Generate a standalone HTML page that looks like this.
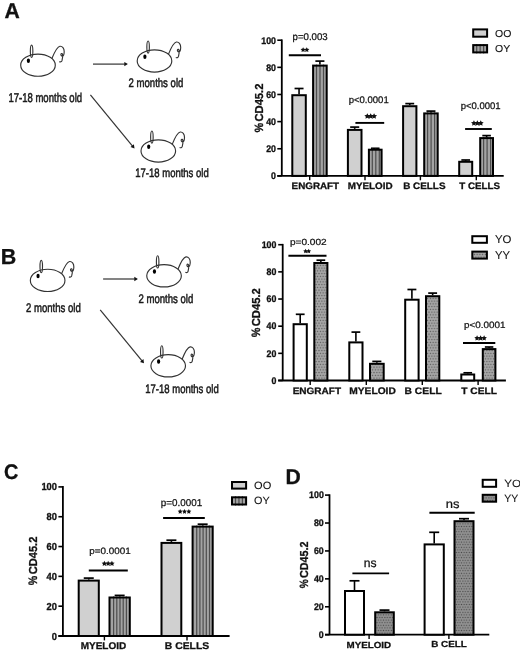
<!DOCTYPE html>
<html><head><meta charset="utf-8"><style>
html,body{margin:0;padding:0;background:#fff;width:520px;height:655px;overflow:hidden}
text{font-family:"Liberation Sans", sans-serif;-webkit-font-smoothing:antialiased;text-rendering:geometricPrecision}
</style></head><body>
<svg width="520" height="655" viewBox="0 0 520 655" style="display:block;filter:grayscale(1)">
<defs>
<pattern id="stripes" patternUnits="userSpaceOnUse" width="3.6" height="10" x="0" y="0">
<rect width="3.6" height="10" fill="#a0a0a0"/><rect x="2.4" width="1.2" height="10" fill="#4a4a4a"/>
</pattern>
<pattern id="dots" patternUnits="userSpaceOnUse" width="2.75" height="5.5">
<rect width="2.75" height="5.5" fill="#aaaaaa"/><rect x="0.75" y="0.75" width="1.25" height="1.25" fill="#555"/><rect x="-0.625" y="3.5" width="1.25" height="1.25" fill="#555"/><rect x="2.125" y="3.5" width="1.25" height="1.25" fill="#555"/>
</pattern>
<pattern id="dotsD" patternUnits="userSpaceOnUse" width="2.6" height="5.2">
<rect width="2.6" height="5.2" fill="#939393"/><rect x="0.7" y="0.7" width="1.2" height="1.2" fill="#4a4a4a"/><rect x="-0.6" y="3.3" width="1.2" height="1.2" fill="#4a4a4a"/><rect x="2.0" y="3.3" width="1.2" height="1.2" fill="#4a4a4a"/>
</pattern>
<g id="mouse" fill="none" stroke="#333" stroke-width="1.15">
<ellipse cx="0" cy="0" rx="17.3" ry="11.1"/>
<ellipse cx="-6.4" cy="-13.9" rx="1.25" ry="6.1"/>
<ellipse cx="-9.6" cy="-4.3" rx="1.6" ry="2.25" fill="#000" stroke="none"/>
<path d="M13.9,-6.6 C16.3,-12.5 19.6,-18.6 21.9,-18.9 C24.3,-19.2 26.3,-16.8 26.2,-13.5 C26.1,-11 25.5,-9 24.4,-9 C23.3,-9 22.6,-10.2 23,-11.2 C23.4,-12 24.4,-11.6 24.6,-10.5 C24.8,-9 24.4,-6 24,-4.5 C23.6,-3.2 22.5,-3 21.3,-3.5"/>
</g>
</defs>
<rect width="520" height="655" fill="#fff"/>
<g font-family='"Liberation Sans", sans-serif'>
<text transform="translate(4.47 17.80) scale(0.9815 1)" font-size="21.59" font-weight="bold" fill="#111" stroke="#111" stroke-width="0.306">A</text>
<use href="#mouse" transform="translate(38 65.15) scale(1.0)"/>
<use href="#mouse" transform="translate(154.5 60.95) scale(1.0)"/>
<use href="#mouse" transform="translate(158.3 150.95) scale(1.0)"/>
<line x1="93" y1="64.1" x2="124.80" y2="64.10" stroke="#333" stroke-width="1.2"/>
<polygon points="127.9,64.1 124.30,66.30 124.30,61.90" fill="#111"/>
<line x1="90.4" y1="94.9" x2="132.53" y2="146.11" stroke="#333" stroke-width="1.2"/>
<polygon points="134.5,148.5 130.51,147.12 133.91,144.32" fill="#111"/>
<text transform="translate(8.38 102.47) scale(0.7463 1)" font-size="12.79" fill="#1a1a1a" stroke="#1a1a1a" stroke-width="0.536">17-18 months old</text>
<text transform="translate(128.52 87.38) scale(0.7739 1)" font-size="12.38" fill="#1a1a1a" stroke="#1a1a1a" stroke-width="0.517">2 months old</text>
<text transform="translate(135.29 177.38) scale(0.7763 1)" font-size="12.24" fill="#1a1a1a" stroke="#1a1a1a" stroke-width="0.515">17-18 months old</text>
<line x1="281.8" y1="175.9" x2="281.8" y2="39.400000000000006" stroke="#000" stroke-width="1.8"/>
<line x1="277.3" y1="175.9" x2="281.8" y2="175.9" stroke="#000" stroke-width="1.6"/>
<text transform="translate(271.06 179.20) scale(0.9200 1)" font-size="9.58" font-weight="bold" fill="#111" stroke="#111" stroke-width="0.326">0</text>
<line x1="277.3" y1="148.76" x2="281.8" y2="148.76" stroke="#000" stroke-width="1.6"/>
<text transform="translate(266.17 152.06) scale(0.9200 1)" font-size="9.58" font-weight="bold" fill="#111" stroke="#111" stroke-width="0.326">20</text>
<line x1="277.3" y1="121.62" x2="281.8" y2="121.62" stroke="#000" stroke-width="1.6"/>
<text transform="translate(266.17 124.92) scale(0.9200 1)" font-size="9.58" font-weight="bold" fill="#111" stroke="#111" stroke-width="0.326">40</text>
<line x1="277.3" y1="94.48000000000002" x2="281.8" y2="94.48000000000002" stroke="#000" stroke-width="1.6"/>
<text transform="translate(266.17 97.78) scale(0.9200 1)" font-size="9.58" font-weight="bold" fill="#111" stroke="#111" stroke-width="0.326">60</text>
<line x1="277.3" y1="67.34" x2="281.8" y2="67.34" stroke="#000" stroke-width="1.6"/>
<text transform="translate(266.17 70.64) scale(0.9200 1)" font-size="9.58" font-weight="bold" fill="#111" stroke="#111" stroke-width="0.326">80</text>
<line x1="277.3" y1="40.20000000000002" x2="281.8" y2="40.20000000000002" stroke="#000" stroke-width="1.6"/>
<text transform="translate(261.28 43.50) scale(0.9200 1)" font-size="9.58" font-weight="bold" fill="#111" stroke="#111" stroke-width="0.326">100</text>
<line x1="277.3" y1="175.9" x2="503.7" y2="175.9" stroke="#000" stroke-width="1.8"/>
<line x1="309.7" y1="175.9" x2="309.7" y2="180.3" stroke="#000" stroke-width="1.4"/>
<line x1="365.0" y1="175.9" x2="365.0" y2="180.3" stroke="#000" stroke-width="1.4"/>
<line x1="420.4" y1="175.9" x2="420.4" y2="180.3" stroke="#000" stroke-width="1.4"/>
<line x1="476.3" y1="175.9" x2="476.3" y2="180.3" stroke="#000" stroke-width="1.4"/>
<line x1="299.05" y1="94.2" x2="299.05" y2="88.5" stroke="#000" stroke-width="1.6"/>
<line x1="294.555" y1="88.5" x2="303.545" y2="88.5" stroke="#000" stroke-width="1.7"/>
<rect x="292.3" y="95.2" width="13.5" height="80.7" fill="#d0d0d0" stroke="#000" stroke-width="2"/>
<line x1="319.9" y1="64.6" x2="319.9" y2="61.099999999999994" stroke="#000" stroke-width="1.6"/>
<line x1="315.376" y1="61.099999999999994" x2="324.424" y2="61.099999999999994" stroke="#000" stroke-width="1.7"/>
<rect x="313.1" y="65.6" width="13.599999999999966" height="110.30000000000001" fill="#a3a3a3"/>
<rect x="315.90" y="64.6" width="1.2" height="111.30000000000001" fill="#4d4d4d"/>
<rect x="319.40" y="64.6" width="1.2" height="111.30000000000001" fill="#4d4d4d"/>
<rect x="322.90" y="64.6" width="1.2" height="111.30000000000001" fill="#4d4d4d"/>
<rect x="313.1" y="65.6" width="13.599999999999966" height="110.30000000000001" fill="none" stroke="#000" stroke-width="2"/>
<line x1="354.7" y1="128.9" x2="354.7" y2="127.1" stroke="#000" stroke-width="1.6"/>
<line x1="350.176" y1="127.1" x2="359.224" y2="127.1" stroke="#000" stroke-width="1.7"/>
<rect x="347.9" y="129.9" width="13.600000000000023" height="46.0" fill="#d0d0d0" stroke="#000" stroke-width="2"/>
<line x1="375.25" y1="148.7" x2="375.25" y2="148.3" stroke="#000" stroke-width="1.6"/>
<line x1="370.98699999999997" y1="148.3" x2="379.51300000000003" y2="148.3" stroke="#000" stroke-width="1.7"/>
<rect x="368.9" y="149.7" width="12.700000000000045" height="26.200000000000017" fill="#a3a3a3"/>
<rect x="371.70" y="148.7" width="1.2" height="27.200000000000017" fill="#4d4d4d"/>
<rect x="375.20" y="148.7" width="1.2" height="27.200000000000017" fill="#4d4d4d"/>
<rect x="378.70" y="148.7" width="1.2" height="27.200000000000017" fill="#4d4d4d"/>
<rect x="368.9" y="149.7" width="12.700000000000045" height="26.200000000000017" fill="none" stroke="#000" stroke-width="2"/>
<line x1="409.75" y1="105.2" x2="409.75" y2="103.6" stroke="#000" stroke-width="1.6"/>
<line x1="405.313" y1="103.6" x2="414.187" y2="103.6" stroke="#000" stroke-width="1.7"/>
<rect x="403.1" y="106.2" width="13.299999999999955" height="69.7" fill="#d0d0d0" stroke="#000" stroke-width="2"/>
<line x1="430.95" y1="112.4" x2="430.95" y2="111.1" stroke="#000" stroke-width="1.6"/>
<line x1="426.455" y1="111.1" x2="435.445" y2="111.1" stroke="#000" stroke-width="1.7"/>
<rect x="424.2" y="113.4" width="13.5" height="62.5" fill="#a3a3a3"/>
<rect x="427.00" y="112.4" width="1.2" height="63.5" fill="#4d4d4d"/>
<rect x="430.50" y="112.4" width="1.2" height="63.5" fill="#4d4d4d"/>
<rect x="434.00" y="112.4" width="1.2" height="63.5" fill="#4d4d4d"/>
<rect x="424.2" y="113.4" width="13.5" height="62.5" fill="none" stroke="#000" stroke-width="2"/>
<line x1="465.7" y1="160.8" x2="465.7" y2="160.0" stroke="#000" stroke-width="1.6"/>
<line x1="461.34999999999997" y1="160.0" x2="470.05" y2="160.0" stroke="#000" stroke-width="1.7"/>
<rect x="459.2" y="161.8" width="13.0" height="14.099999999999994" fill="#d0d0d0" stroke="#000" stroke-width="2"/>
<line x1="486.6" y1="137.1" x2="486.6" y2="135.60000000000002" stroke="#000" stroke-width="1.6"/>
<line x1="482.308" y1="135.60000000000002" x2="490.89200000000005" y2="135.60000000000002" stroke="#000" stroke-width="1.7"/>
<rect x="480.2" y="138.1" width="12.800000000000011" height="37.80000000000001" fill="#a3a3a3"/>
<rect x="483.00" y="137.1" width="1.2" height="38.80000000000001" fill="#4d4d4d"/>
<rect x="486.50" y="137.1" width="1.2" height="38.80000000000001" fill="#4d4d4d"/>
<rect x="490.00" y="137.1" width="1.2" height="38.80000000000001" fill="#4d4d4d"/>
<rect x="480.2" y="138.1" width="12.800000000000011" height="37.80000000000001" fill="none" stroke="#000" stroke-width="2"/>
<text transform="translate(291.56 189.31) scale(1.0588 1)" font-size="9.30" font-weight="bold" fill="#111" stroke="#111" stroke-width="0.283">ENGRAFT</text>
<text transform="translate(347.66 189.31) scale(1.0613 1)" font-size="9.30" font-weight="bold" fill="#111" stroke="#111" stroke-width="0.283">MYELOID</text>
<text transform="translate(403.16 189.31) scale(1.0642 1)" font-size="9.30" font-weight="bold" fill="#111" stroke="#111" stroke-width="0.282">B CELLS</text>
<text transform="translate(459.20 189.31) scale(1.0523 1)" font-size="9.30" font-weight="bold" fill="#111" stroke="#111" stroke-width="0.285">T CELLS</text>
<text transform="translate(262.68 121.55) rotate(-90) scale(0.9705 1)" font-size="11.55" font-weight="bold" fill="#111" stroke="#111" stroke-width="0.300">CD45.2</text>
<text transform="translate(262.78 132.47) rotate(-90) scale(0.9092 1)" font-size="11.91" font-weight="bold" fill="#111" stroke="#111" stroke-width="0.300">%</text>
<line x1="288.8" y1="55.3" x2="321" y2="55.3" stroke="#000" stroke-width="1.9"/>
<polygon points="303.12,47.20 303.92,48.82 305.71,49.08 304.41,50.34 304.72,52.12 303.12,51.28 301.52,52.12 301.83,50.34 300.53,49.08 302.32,48.82" fill="#111"/>
<polygon points="306.78,47.20 307.58,48.82 309.37,49.08 308.07,50.34 308.38,52.12 306.78,51.28 305.18,52.12 305.49,50.34 304.19,49.08 305.98,48.82" fill="#111"/>
<text transform="translate(292.57 39.75) scale(0.9877 1)" font-size="9.78" fill="#111" stroke="#111" stroke-width="0.253">p=0.003</text>
<line x1="355.4" y1="122.9" x2="384.2" y2="122.9" stroke="#000" stroke-width="1.9"/>
<polygon points="367.32,113.18 368.24,115.04 370.29,115.34 368.80,116.78 369.15,118.82 367.32,117.86 365.49,118.82 365.84,116.78 364.35,115.34 366.40,115.04" fill="#111"/>
<polygon points="370.70,113.18 371.62,115.04 373.67,115.34 372.18,116.78 372.53,118.82 370.70,117.86 368.87,118.82 369.22,116.78 367.73,115.34 369.78,115.04" fill="#111"/>
<polygon points="374.08,113.18 375.00,115.04 377.05,115.34 375.56,116.78 375.91,118.82 374.08,117.86 372.25,118.82 372.60,116.78 371.11,115.34 373.16,115.04" fill="#111"/>
<text transform="translate(348.68 102.99) scale(0.9986 1)" font-size="9.56" fill="#111" stroke="#111" stroke-width="0.250">p&lt;0.0001</text>
<line x1="465.1" y1="129" x2="491.8" y2="129" stroke="#000" stroke-width="1.9"/>
<polygon points="473.94,120.20 474.83,122.01 476.83,122.30 475.39,123.71 475.73,125.70 473.94,124.76 472.15,125.70 472.49,123.71 471.05,122.30 473.05,122.01" fill="#111"/>
<polygon points="477.35,120.20 478.24,122.01 480.24,122.30 478.80,123.71 479.14,125.70 477.35,124.76 475.56,125.70 475.90,123.71 474.46,122.30 476.46,122.01" fill="#111"/>
<polygon points="480.76,120.20 481.65,122.01 483.65,122.30 482.21,123.71 482.55,125.70 480.76,124.76 478.97,125.70 479.31,123.71 477.87,122.30 479.87,122.01" fill="#111"/>
<text transform="translate(460.63 109.49) scale(0.9973 1)" font-size="9.56" fill="#111" stroke="#111" stroke-width="0.251">p&lt;0.0001</text>
<rect x="473.2" y="29.4" width="13.900000000000034" height="7.300000000000004" fill="#d0d0d0" stroke="#000" stroke-width="2"/>
<rect x="473.2" y="45.1" width="13.900000000000034" height="7.299999999999997" fill="#a3a3a3"/>
<rect x="476.10" y="44.1" width="1.2" height="9.299999999999997" fill="#4d4d4d"/>
<rect x="479.55" y="44.1" width="1.2" height="9.299999999999997" fill="#4d4d4d"/>
<rect x="483.00" y="44.1" width="1.2" height="9.299999999999997" fill="#4d4d4d"/>
<rect x="473.2" y="45.1" width="13.900000000000034" height="7.299999999999997" fill="none" stroke="#000" stroke-width="2"/>
<text transform="translate(495.03 36.60) scale(1.0366 1)" font-size="10.14" fill="#111" stroke="#111" stroke-width="0.096">OO</text>
<text transform="translate(495.03 52.10) scale(1.0361 1)" font-size="10.14" fill="#111" stroke="#111" stroke-width="0.097">OY</text>
<text transform="translate(0.80 263.75) scale(0.9879 1)" font-size="21.74" font-weight="bold" fill="#111" stroke="#111" stroke-width="0.304">B</text>
<use href="#mouse" transform="translate(47.65 280.4) scale(1.0)"/>
<use href="#mouse" transform="translate(164.05 275.8) scale(1.0)"/>
<use href="#mouse" transform="translate(168.2 365.8) scale(1.0)"/>
<line x1="103.1" y1="279.0" x2="134.80" y2="279.00" stroke="#333" stroke-width="1.2"/>
<polygon points="137.9,279.0 134.30,281.20 134.30,276.80" fill="#111"/>
<line x1="100.2" y1="309.8" x2="142.04" y2="360.90" stroke="#333" stroke-width="1.2"/>
<polygon points="144,363.3 140.02,361.91 143.42,359.12" fill="#111"/>
<text transform="translate(26.02 312.28) scale(0.7696 1)" font-size="12.45" fill="#1a1a1a" stroke="#1a1a1a" stroke-width="0.520">2 months old</text>
<text transform="translate(138.52 302.78) scale(0.7696 1)" font-size="12.45" fill="#1a1a1a" stroke="#1a1a1a" stroke-width="0.520">2 months old</text>
<text transform="translate(145.29 392.88) scale(0.7763 1)" font-size="12.24" fill="#1a1a1a" stroke="#1a1a1a" stroke-width="0.515">17-18 months old</text>
<line x1="282.7" y1="380.5" x2="282.7" y2="243.89999999999998" stroke="#000" stroke-width="1.8"/>
<line x1="278.2" y1="380.5" x2="282.7" y2="380.5" stroke="#000" stroke-width="1.6"/>
<text transform="translate(271.46 383.80) scale(0.9200 1)" font-size="9.58" font-weight="bold" fill="#111" stroke="#111" stroke-width="0.326">0</text>
<line x1="278.2" y1="353.34" x2="282.7" y2="353.34" stroke="#000" stroke-width="1.6"/>
<text transform="translate(266.57 356.64) scale(0.9200 1)" font-size="9.58" font-weight="bold" fill="#111" stroke="#111" stroke-width="0.326">20</text>
<line x1="278.2" y1="326.18" x2="282.7" y2="326.18" stroke="#000" stroke-width="1.6"/>
<text transform="translate(266.57 329.48) scale(0.9200 1)" font-size="9.58" font-weight="bold" fill="#111" stroke="#111" stroke-width="0.326">40</text>
<line x1="278.2" y1="299.02" x2="282.7" y2="299.02" stroke="#000" stroke-width="1.6"/>
<text transform="translate(266.57 302.32) scale(0.9200 1)" font-size="9.58" font-weight="bold" fill="#111" stroke="#111" stroke-width="0.326">60</text>
<line x1="278.2" y1="271.86" x2="282.7" y2="271.86" stroke="#000" stroke-width="1.6"/>
<text transform="translate(266.57 275.16) scale(0.9200 1)" font-size="9.58" font-weight="bold" fill="#111" stroke="#111" stroke-width="0.326">80</text>
<line x1="278.2" y1="244.7" x2="282.7" y2="244.7" stroke="#000" stroke-width="1.6"/>
<text transform="translate(261.68 248.00) scale(0.9200 1)" font-size="9.58" font-weight="bold" fill="#111" stroke="#111" stroke-width="0.326">100</text>
<line x1="278.2" y1="380.5" x2="505.9" y2="380.5" stroke="#000" stroke-width="1.8"/>
<line x1="310.2" y1="380.5" x2="310.2" y2="384.9" stroke="#000" stroke-width="1.4"/>
<line x1="366.3" y1="380.5" x2="366.3" y2="384.9" stroke="#000" stroke-width="1.4"/>
<line x1="422.3" y1="380.5" x2="422.3" y2="384.9" stroke="#000" stroke-width="1.4"/>
<line x1="478.1" y1="380.5" x2="478.1" y2="384.9" stroke="#000" stroke-width="1.4"/>
<line x1="300.20000000000005" y1="323.2" x2="300.20000000000005" y2="314.3" stroke="#000" stroke-width="1.6"/>
<line x1="295.79200000000003" y1="314.3" x2="304.60800000000006" y2="314.3" stroke="#000" stroke-width="1.7"/>
<rect x="293.6" y="324.2" width="13.199999999999989" height="56.30000000000001" fill="#ffffff" stroke="#000" stroke-width="2"/>
<line x1="320.85" y1="262.0" x2="320.85" y2="260.2" stroke="#000" stroke-width="1.6"/>
<line x1="316.47100000000006" y1="260.2" x2="325.229" y2="260.2" stroke="#000" stroke-width="1.7"/>
<rect x="314.3" y="263.0" width="13.099999999999966" height="117.5" fill="url(#dots)" stroke="#000" stroke-width="2"/>
<line x1="355.9" y1="341.4" x2="355.9" y2="332.1" stroke="#000" stroke-width="1.6"/>
<line x1="351.49199999999996" y1="332.1" x2="360.308" y2="332.1" stroke="#000" stroke-width="1.7"/>
<rect x="349.3" y="342.4" width="13.199999999999989" height="38.10000000000002" fill="#ffffff" stroke="#000" stroke-width="2"/>
<line x1="376.85" y1="362.8" x2="376.85" y2="361.40000000000003" stroke="#000" stroke-width="1.6"/>
<line x1="372.297" y1="361.40000000000003" x2="381.403" y2="361.40000000000003" stroke="#000" stroke-width="1.7"/>
<rect x="370.0" y="363.8" width="13.699999999999989" height="16.69999999999999" fill="url(#dots)" stroke="#000" stroke-width="2"/>
<line x1="411.9" y1="298.7" x2="411.9" y2="289.5" stroke="#000" stroke-width="1.6"/>
<line x1="407.43399999999997" y1="289.5" x2="416.366" y2="289.5" stroke="#000" stroke-width="1.7"/>
<rect x="405.2" y="299.7" width="13.400000000000034" height="80.80000000000001" fill="#ffffff" stroke="#000" stroke-width="2"/>
<line x1="432.65" y1="295.2" x2="432.65" y2="293.1" stroke="#000" stroke-width="1.6"/>
<line x1="428.21299999999997" y1="293.1" x2="437.087" y2="293.1" stroke="#000" stroke-width="1.7"/>
<rect x="426.0" y="296.2" width="13.300000000000011" height="84.30000000000001" fill="url(#dots)" stroke="#000" stroke-width="2"/>
<line x1="467.75" y1="373.5" x2="467.75" y2="372.8" stroke="#000" stroke-width="1.6"/>
<line x1="463.42900000000003" y1="372.8" x2="472.07099999999997" y2="372.8" stroke="#000" stroke-width="1.7"/>
<rect x="461.3" y="374.5" width="12.899999999999977" height="6.0" fill="#ffffff" stroke="#000" stroke-width="2"/>
<line x1="489.1" y1="348.1" x2="489.1" y2="347.0" stroke="#000" stroke-width="1.6"/>
<line x1="484.86600000000004" y1="347.0" x2="493.334" y2="347.0" stroke="#000" stroke-width="1.7"/>
<rect x="482.8" y="349.1" width="12.599999999999966" height="31.399999999999977" fill="url(#dots)" stroke="#000" stroke-width="2"/>
<text transform="translate(292.65 393.81) scale(1.0769 1)" font-size="9.30" font-weight="bold" fill="#111" stroke="#111" stroke-width="0.279">ENGRAFT</text>
<text transform="translate(349.24 394.00) scale(1.0676 1)" font-size="9.58" font-weight="bold" fill="#111" stroke="#111" stroke-width="0.281">MYELOID</text>
<text transform="translate(404.53 393.81) scale(1.1079 1)" font-size="9.30" font-weight="bold" fill="#111" stroke="#111" stroke-width="0.271">B CELL</text>
<text transform="translate(461.20 393.81) scale(1.0975 1)" font-size="9.30" font-weight="bold" fill="#111" stroke="#111" stroke-width="0.273">T CELL</text>
<text transform="translate(259.98 326.25) rotate(-90) scale(0.9731 1)" font-size="11.55" font-weight="bold" fill="#111" stroke="#111" stroke-width="0.300">CD45.2</text>
<text transform="translate(259.98 337.27) rotate(-90) scale(0.8985 1)" font-size="12.06" font-weight="bold" fill="#111" stroke="#111" stroke-width="0.300">%</text>
<line x1="288.4" y1="255.7" x2="326.5" y2="255.7" stroke="#000" stroke-width="1.9"/>
<polygon points="305.58,248.87 306.31,250.35 307.94,250.58 306.76,251.73 307.04,253.35 305.58,252.59 304.12,253.35 304.40,251.73 303.22,250.58 304.85,250.35" fill="#111"/>
<polygon points="308.72,248.87 309.45,250.35 311.08,250.58 309.90,251.73 310.18,253.35 308.72,252.59 307.26,253.35 307.54,251.73 306.36,250.58 307.99,250.35" fill="#111"/>
<text transform="translate(289.94 244.73) scale(1.1346 1)" font-size="8.90" fill="#111" stroke="#111" stroke-width="0.220">p=0.002</text>
<line x1="463" y1="343" x2="495.3" y2="343" stroke="#000" stroke-width="1.9"/>
<polygon points="477.08,335.35 477.93,337.07 479.82,337.34 478.45,338.68 478.77,340.56 477.08,339.67 475.39,340.56 475.71,338.68 474.34,337.34 476.23,337.07" fill="#111"/>
<polygon points="480.60,335.35 481.45,337.07 483.34,337.34 481.97,338.68 482.29,340.56 480.60,339.67 478.91,340.56 479.23,338.68 477.86,337.34 479.75,337.07" fill="#111"/>
<polygon points="484.12,335.35 484.97,337.07 486.86,337.34 485.49,338.68 485.81,340.56 484.12,339.67 482.43,340.56 482.75,338.68 481.38,337.34 483.27,337.07" fill="#111"/>
<text transform="translate(464.06 328.46) scale(1.0714 1)" font-size="9.23" fill="#111" stroke="#111" stroke-width="0.233">p&lt;0.0001</text>
<rect x="472.3" y="236.2" width="14.599999999999966" height="6.600000000000023" fill="#ffffff" stroke="#000" stroke-width="2"/>
<rect x="472.3" y="251.6" width="14.599999999999966" height="7.000000000000028" fill="url(#dots)" stroke="#000" stroke-width="2"/>
<text transform="translate(494.92 243.39) scale(1.0234 1)" font-size="11.13" fill="#111" stroke="#111" stroke-width="0.098">YO</text>
<text transform="translate(494.92 258.70) scale(1.0042 1)" font-size="11.16" fill="#111" stroke="#111" stroke-width="0.100">YY</text>
<text transform="translate(4.11 478.54) scale(0.9394 1)" font-size="21.13" font-weight="bold" fill="#111" stroke="#111" stroke-width="0.319">C</text>
<line x1="62.9" y1="636.0" x2="62.9" y2="486.09999999999997" stroke="#000" stroke-width="1.8"/>
<line x1="58.4" y1="636.0" x2="62.9" y2="636.0" stroke="#000" stroke-width="1.6"/>
<text transform="translate(51.80 639.50) scale(0.9200 1)" font-size="10.14" font-weight="bold" fill="#111" stroke="#111" stroke-width="0.326">0</text>
<line x1="58.4" y1="606.18" x2="62.9" y2="606.18" stroke="#000" stroke-width="1.6"/>
<text transform="translate(46.62 609.68) scale(0.9200 1)" font-size="10.14" font-weight="bold" fill="#111" stroke="#111" stroke-width="0.326">20</text>
<line x1="58.4" y1="576.36" x2="62.9" y2="576.36" stroke="#000" stroke-width="1.6"/>
<text transform="translate(46.62 579.86) scale(0.9200 1)" font-size="10.14" font-weight="bold" fill="#111" stroke="#111" stroke-width="0.326">40</text>
<line x1="58.4" y1="546.54" x2="62.9" y2="546.54" stroke="#000" stroke-width="1.6"/>
<text transform="translate(46.62 550.04) scale(0.9200 1)" font-size="10.14" font-weight="bold" fill="#111" stroke="#111" stroke-width="0.326">60</text>
<line x1="58.4" y1="516.72" x2="62.9" y2="516.72" stroke="#000" stroke-width="1.6"/>
<text transform="translate(46.62 520.22) scale(0.9200 1)" font-size="10.14" font-weight="bold" fill="#111" stroke="#111" stroke-width="0.326">80</text>
<line x1="58.4" y1="486.9" x2="62.9" y2="486.9" stroke="#000" stroke-width="1.6"/>
<text transform="translate(41.44 490.40) scale(0.9200 1)" font-size="10.14" font-weight="bold" fill="#111" stroke="#111" stroke-width="0.326">100</text>
<line x1="58.4" y1="636.0" x2="229.6" y2="636.0" stroke="#000" stroke-width="1.8"/>
<line x1="104.4" y1="636.0" x2="104.4" y2="640.4" stroke="#000" stroke-width="1.4"/>
<line x1="187.0" y1="636.0" x2="187.0" y2="640.4" stroke="#000" stroke-width="1.4"/>
<line x1="88.75" y1="579.6" x2="88.75" y2="578.0999999999999" stroke="#000" stroke-width="1.6"/>
<line x1="83.75" y1="578.0999999999999" x2="93.75" y2="578.0999999999999" stroke="#000" stroke-width="1.7"/>
<rect x="78.7" y="580.6" width="20.099999999999994" height="55.39999999999998" fill="#d0d0d0" stroke="#000" stroke-width="2"/>
<line x1="119.65" y1="596.5" x2="119.65" y2="595.4" stroke="#000" stroke-width="1.6"/>
<line x1="114.65" y1="595.4" x2="124.65" y2="595.4" stroke="#000" stroke-width="1.7"/>
<rect x="109.5" y="597.5" width="20.30000000000001" height="38.5" fill="#a3a3a3"/>
<rect x="113.00" y="596.5" width="1.2" height="39.5" fill="#4d4d4d"/>
<rect x="116.20" y="596.5" width="1.2" height="39.5" fill="#4d4d4d"/>
<rect x="119.40" y="596.5" width="1.2" height="39.5" fill="#4d4d4d"/>
<rect x="122.60" y="596.5" width="1.2" height="39.5" fill="#4d4d4d"/>
<rect x="125.80" y="596.5" width="1.2" height="39.5" fill="#4d4d4d"/>
<rect x="109.5" y="597.5" width="20.30000000000001" height="38.5" fill="none" stroke="#000" stroke-width="2"/>
<line x1="171.4" y1="541.9" x2="171.4" y2="540.1999999999999" stroke="#000" stroke-width="1.6"/>
<line x1="166.4" y1="540.1999999999999" x2="176.4" y2="540.1999999999999" stroke="#000" stroke-width="1.7"/>
<rect x="161.5" y="542.9" width="19.80000000000001" height="93.10000000000002" fill="#d0d0d0" stroke="#000" stroke-width="2"/>
<line x1="202.64999999999998" y1="525.6" x2="202.64999999999998" y2="524.1999999999999" stroke="#000" stroke-width="1.6"/>
<line x1="197.64999999999998" y1="524.1999999999999" x2="207.64999999999998" y2="524.1999999999999" stroke="#000" stroke-width="1.7"/>
<rect x="192.6" y="526.6" width="20.099999999999994" height="109.39999999999998" fill="#a3a3a3"/>
<rect x="196.10" y="525.6" width="1.2" height="110.39999999999998" fill="#4d4d4d"/>
<rect x="199.30" y="525.6" width="1.2" height="110.39999999999998" fill="#4d4d4d"/>
<rect x="202.50" y="525.6" width="1.2" height="110.39999999999998" fill="#4d4d4d"/>
<rect x="205.70" y="525.6" width="1.2" height="110.39999999999998" fill="#4d4d4d"/>
<rect x="208.90" y="525.6" width="1.2" height="110.39999999999998" fill="#4d4d4d"/>
<rect x="192.6" y="526.6" width="20.099999999999994" height="109.39999999999998" fill="none" stroke="#000" stroke-width="2"/>
<text transform="translate(80.65 649.00) scale(1.0290 1)" font-size="9.72" font-weight="bold" fill="#111" stroke="#111" stroke-width="0.292">MYELOID</text>
<text transform="translate(164.83 648.80) scale(1.0672 1)" font-size="9.72" font-weight="bold" fill="#111" stroke="#111" stroke-width="0.281">B CELLS</text>
<text transform="translate(37.18 574.34) rotate(-90) scale(0.9626 1)" font-size="11.55" font-weight="bold" fill="#111" stroke="#111" stroke-width="0.300">CD45.2</text>
<text transform="translate(37.38 585.26) rotate(-90) scale(0.8686 1)" font-size="12.20" font-weight="bold" fill="#111" stroke="#111" stroke-width="0.300">%</text>
<line x1="88.8" y1="570.5" x2="127.8" y2="570.5" stroke="#000" stroke-width="1.9"/>
<polygon points="104.38,560.75 105.23,562.47 107.12,562.74 105.75,564.08 106.07,565.96 104.38,565.07 102.69,565.96 103.01,564.08 101.64,562.74 103.53,562.47" fill="#111"/>
<polygon points="108.15,560.75 109.00,562.47 110.89,562.74 109.52,564.08 109.84,565.96 108.15,565.07 106.46,565.96 106.78,564.08 105.41,562.74 107.30,562.47" fill="#111"/>
<polygon points="111.92,560.75 112.77,562.47 114.66,562.74 113.29,564.08 113.61,565.96 111.92,565.07 110.23,565.96 110.55,564.08 109.18,562.74 111.07,562.47" fill="#111"/>
<text transform="translate(89.36 553.96) scale(1.0714 1)" font-size="9.23" fill="#111" stroke="#111" stroke-width="0.233">p=0.0001</text>
<line x1="163.1" y1="518" x2="204.8" y2="518" stroke="#000" stroke-width="1.9"/>
<polygon points="180.16,509.04 180.91,510.57 182.59,510.81 181.38,512.00 181.66,513.68 180.16,512.88 178.66,513.68 178.94,512.00 177.73,510.81 179.41,510.57" fill="#111"/>
<polygon points="184.50,509.04 185.25,510.57 186.93,510.81 185.72,512.00 186.00,513.68 184.50,512.88 183.00,513.68 183.28,512.00 182.07,510.81 183.75,510.57" fill="#111"/>
<polygon points="188.84,509.04 189.59,510.57 191.27,510.81 190.06,512.00 190.34,513.68 188.84,512.88 187.34,513.68 187.62,512.00 186.41,510.81 188.09,510.57" fill="#111"/>
<text transform="translate(160.76 505.82) scale(0.9975 1)" font-size="9.89" fill="#111" stroke="#111" stroke-width="0.251">p=0.0001</text>
<rect x="232" y="482" width="14.099999999999994" height="6.600000000000023" fill="#d0d0d0" stroke="#000" stroke-width="2"/>
<rect x="232" y="497.3" width="14.099999999999994" height="7.199999999999989" fill="#a3a3a3"/>
<rect x="234.90" y="496.3" width="1.2" height="9.199999999999989" fill="#4d4d4d"/>
<rect x="238.35" y="496.3" width="1.2" height="9.199999999999989" fill="#4d4d4d"/>
<rect x="241.80" y="496.3" width="1.2" height="9.199999999999989" fill="#4d4d4d"/>
<rect x="232" y="497.3" width="14.099999999999994" height="7.199999999999989" fill="none" stroke="#000" stroke-width="2"/>
<text transform="translate(254.10 488.89) scale(1.0468 1)" font-size="10.56" fill="#111" stroke="#111" stroke-width="0.096">OO</text>
<text transform="translate(254.11 504.49) scale(1.0290 1)" font-size="10.56" fill="#111" stroke="#111" stroke-width="0.097">OY</text>
<text transform="translate(285.53 483.75) scale(0.9888 1)" font-size="21.38" font-weight="bold" fill="#111" stroke="#111" stroke-width="0.303">D</text>
<line x1="329.5" y1="634.7" x2="329.5" y2="494.3" stroke="#000" stroke-width="1.8"/>
<line x1="325.0" y1="634.7" x2="329.5" y2="634.7" stroke="#000" stroke-width="1.6"/>
<text transform="translate(318.86 638.00) scale(0.9200 1)" font-size="9.58" font-weight="bold" fill="#111" stroke="#111" stroke-width="0.326">0</text>
<line x1="325.0" y1="606.7800000000001" x2="329.5" y2="606.7800000000001" stroke="#000" stroke-width="1.6"/>
<text transform="translate(313.97 610.08) scale(0.9200 1)" font-size="9.58" font-weight="bold" fill="#111" stroke="#111" stroke-width="0.326">20</text>
<line x1="325.0" y1="578.86" x2="329.5" y2="578.86" stroke="#000" stroke-width="1.6"/>
<text transform="translate(313.97 582.16) scale(0.9200 1)" font-size="9.58" font-weight="bold" fill="#111" stroke="#111" stroke-width="0.326">40</text>
<line x1="325.0" y1="550.94" x2="329.5" y2="550.94" stroke="#000" stroke-width="1.6"/>
<text transform="translate(313.97 554.24) scale(0.9200 1)" font-size="9.58" font-weight="bold" fill="#111" stroke="#111" stroke-width="0.326">60</text>
<line x1="325.0" y1="523.02" x2="329.5" y2="523.02" stroke="#000" stroke-width="1.6"/>
<text transform="translate(313.97 526.32) scale(0.9200 1)" font-size="9.58" font-weight="bold" fill="#111" stroke="#111" stroke-width="0.326">80</text>
<line x1="325.0" y1="495.1" x2="329.5" y2="495.1" stroke="#000" stroke-width="1.6"/>
<text transform="translate(309.08 498.40) scale(0.9200 1)" font-size="9.58" font-weight="bold" fill="#111" stroke="#111" stroke-width="0.326">100</text>
<line x1="325.0" y1="634.7" x2="489.3" y2="634.7" stroke="#000" stroke-width="1.8"/>
<line x1="369.1" y1="634.7" x2="369.1" y2="639.1" stroke="#000" stroke-width="1.4"/>
<line x1="448.9" y1="634.7" x2="448.9" y2="639.1" stroke="#000" stroke-width="1.4"/>
<line x1="354.5" y1="590.0" x2="354.5" y2="580.8" stroke="#000" stroke-width="1.6"/>
<line x1="349.5" y1="580.8" x2="359.5" y2="580.8" stroke="#000" stroke-width="1.7"/>
<rect x="345.0" y="591.0" width="19.0" height="43.700000000000045" fill="#ffffff" stroke="#000" stroke-width="2"/>
<line x1="384.5" y1="611.3" x2="384.5" y2="610.0999999999999" stroke="#000" stroke-width="1.6"/>
<line x1="379.5" y1="610.0999999999999" x2="389.5" y2="610.0999999999999" stroke="#000" stroke-width="1.7"/>
<rect x="375.2" y="612.3" width="18.600000000000023" height="22.40000000000009" fill="url(#dotsD)" stroke="#000" stroke-width="2"/>
<line x1="434.20000000000005" y1="543.4" x2="434.20000000000005" y2="532.3" stroke="#000" stroke-width="1.6"/>
<line x1="429.20000000000005" y1="532.3" x2="439.20000000000005" y2="532.3" stroke="#000" stroke-width="1.7"/>
<rect x="424.6" y="544.4" width="19.19999999999999" height="90.30000000000007" fill="#ffffff" stroke="#000" stroke-width="2"/>
<line x1="464.0" y1="520.2" x2="464.0" y2="518.6999999999999" stroke="#000" stroke-width="1.6"/>
<line x1="459.0" y1="518.6999999999999" x2="469.0" y2="518.6999999999999" stroke="#000" stroke-width="1.7"/>
<rect x="454.5" y="521.2" width="19.0" height="113.5" fill="url(#dotsD)" stroke="#000" stroke-width="2"/>
<text transform="translate(346.56 647.51) scale(1.1042 1)" font-size="8.87" font-weight="bold" fill="#111" stroke="#111" stroke-width="0.272">MYELOID</text>
<text transform="translate(431.16 647.41) scale(1.1305 1)" font-size="8.73" font-weight="bold" fill="#111" stroke="#111" stroke-width="0.265">B CELL</text>
<text transform="translate(307.88 577.93) rotate(-90) scale(0.9313 1)" font-size="11.55" font-weight="bold" fill="#111" stroke="#111" stroke-width="0.300">CD45.2</text>
<text transform="translate(307.78 588.25) rotate(-90) scale(0.8493 1)" font-size="11.91" font-weight="bold" fill="#111" stroke="#111" stroke-width="0.300">%</text>
<line x1="352.4" y1="573.4" x2="389.1" y2="573.4" stroke="#000" stroke-width="1.9"/>
<text transform="translate(363.81 567.38) scale(0.9971 1)" font-size="12.18" fill="#111" stroke="#111" stroke-width="0.251">ns</text>
<line x1="429.4" y1="512.7" x2="474.7" y2="512.7" stroke="#000" stroke-width="1.9"/>
<text transform="translate(445.86 507.58) scale(1.0659 1)" font-size="12.18" fill="#111" stroke="#111" stroke-width="0.235">ns</text>
<rect x="482.7" y="479.8" width="13.400000000000034" height="7.0" fill="#ffffff" stroke="#000" stroke-width="2"/>
<rect x="482.7" y="494.8" width="13.400000000000034" height="6.899999999999977" fill="url(#dotsD)" stroke="#000" stroke-width="2"/>
<text transform="translate(504.31 486.70) scale(1.1135 1)" font-size="10.42" fill="#111" stroke="#111" stroke-width="0.090">YO</text>
<text transform="translate(504.34 501.70) scale(0.9994 1)" font-size="10.43" fill="#111" stroke="#111" stroke-width="0.100">YY</text>
</g></svg>
</body></html>
